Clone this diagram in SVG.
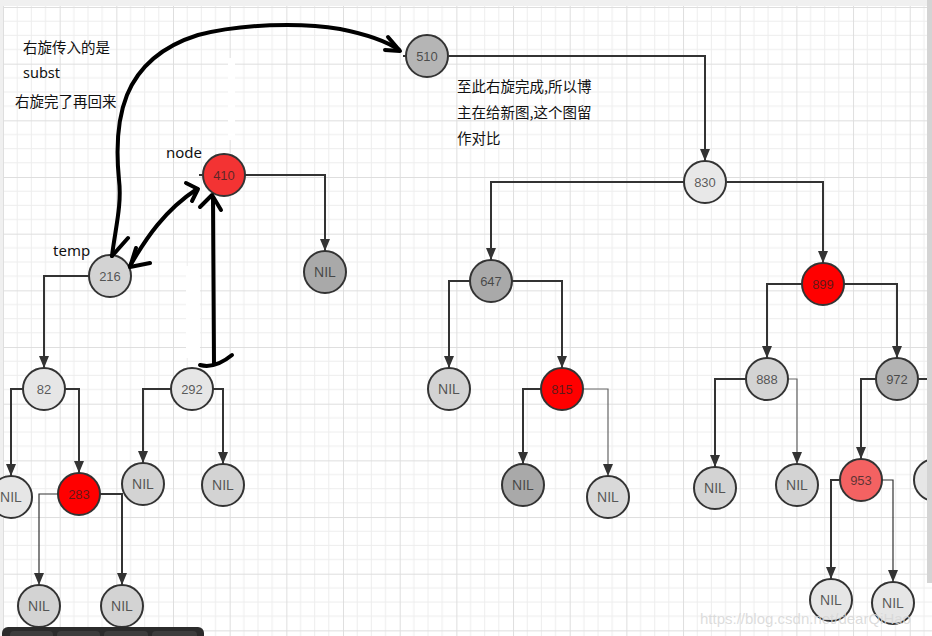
<svg xmlns="http://www.w3.org/2000/svg" width="932" height="636" viewBox="0 0 932 636">
<defs>
<pattern id="grid" patternUnits="userSpaceOnUse" x="3" y="7" width="56.67" height="56.67">
<path d="M14.17,0V56.67M28.33,0V56.67M42.5,0V56.67M0,14.17H56.67M0,28.33H56.67M0,42.5H56.67" stroke="#ededed" stroke-width="1" fill="none"/>
<path d="M0.5,0V56.67M0,0.5H56.67" stroke="#dedede" stroke-width="1" fill="none"/>
</pattern>
<marker id="arr" markerUnits="userSpaceOnUse" markerWidth="12" markerHeight="12" refX="12" refY="5" orient="auto" viewBox="0 0 12 10">
<path d="M0,0L12,5L0,10z" fill="#333"/>
</marker>
<style>
.e{fill:none;stroke:#333;stroke-width:2;marker-end:url(#arr)}
.th{stroke-width:1.2}
.gr{stroke:#666;stroke-width:1.2}
.n circle{stroke:#333;stroke-width:2}
.n text{font-family:"Liberation Sans",Arial,sans-serif;font-size:13px;fill:#222;fill-opacity:0.72;text-anchor:middle;dominant-baseline:central}
.nil text{font-size:14px}
.h{fill:none;stroke:#000;stroke-width:4;stroke-linecap:round;stroke-linejoin:round}
.lbl{font-family:"Noto Sans","Noto Sans CJK SC",sans-serif;font-size:15px;fill:#111}
.cn{font-family:"Noto Sans CJK SC","Noto Sans",sans-serif;font-size:14.5px;fill:#111}
</style>
</defs>
<rect width="932" height="636" fill="#fff"/>
<rect width="932" height="636" fill="url(#grid)"/>
<rect x="0" y="0" width="932" height="6" fill="#f0f0f0"/>
<rect x="0" y="0" width="3" height="636" fill="#f0f0f0"/>
<g id="erasures" fill="#fff">
<rect x="228" y="58" width="7" height="82"/>
<rect x="186" y="266" width="14" height="92"/>
</g>

<g id="connectors">
<path class="e" d="M449,56H705V161"/>
<path class="e" d="M684,182H491V260"/>
<path class="e" d="M727,182H823V263"/>
<path class="e" d="M470,281H449V368"/>
<path class="e" d="M512,281H562V368"/>
<path class="e" d="M541,389H523V464"/>
<path class="e gr" d="M583,389H608V476"/>
<path class="e" d="M802,284H767V358"/>
<path class="e" d="M844,284H897V358"/>
<path class="e" d="M746,379H715V467"/>
<path class="e gr" d="M788,379H797V464"/>
<path class="e" d="M876,379H861V459"/>
<path d="M918,379H932" fill="none" stroke="#333" stroke-width="2"/>
<path class="e" d="M840,480H831V579"/>
<path class="e th" d="M882,480H893V582"/>
<path class="e" d="M245,175H325V251"/>
<path class="e" d="M89,276H44V368"/>
<path class="e" d="M23,389H11V476"/>
<path class="e" d="M65,389H79V473"/>
<path class="e th" d="M58,494H39V585"/>
<path class="e" d="M100,494H122V585"/>
<path class="e" d="M171,389H143V463"/>
<path class="e" d="M213,389H223V464"/>
<path d="M403,56H406M199,175H202" fill="none" stroke="#333" stroke-width="2"/>
</g>

<g id="n510" class="n"><circle cx="427" cy="56" r="21" fill="#b5b5b5"/><text x="427" y="56">510</text></g>
<g id="n830" class="n"><circle cx="705" cy="182" r="21" fill="#e8e8e8"/><text x="705" y="182">830</text></g>
<g id="n647" class="n"><circle cx="491" cy="281" r="21" fill="#a9a9a9"/><text x="491" y="281">647</text></g>
<g id="nil647" class="n nil"><circle cx="449" cy="389" r="21" fill="#d3d3d3"/><text x="449" y="389">NIL</text></g>
<g id="n815" class="n"><circle cx="562" cy="389" r="21" fill="#ff0000"/><text x="562" y="389">815</text></g>
<g id="nil815a" class="n nil"><circle cx="523" cy="485" r="21" fill="#a9a9a9"/><text x="523" y="485">NIL</text></g>
<g id="nil815b" class="n nil"><circle cx="608" cy="497" r="21" fill="#d9d9d9"/><text x="608" y="497">NIL</text></g>
<g id="n899" class="n"><circle cx="823" cy="284" r="21" fill="#ff0000"/><text x="823" y="284">899</text></g>
<g id="n888" class="n"><circle cx="767" cy="379" r="21" fill="#d3d3d3"/><text x="767" y="379">888</text></g>
<g id="n972" class="n"><circle cx="897" cy="379" r="21" fill="#b3b3b3"/><text x="897" y="379">972</text></g>
<g id="nil888a" class="n nil"><circle cx="715" cy="488" r="21" fill="#d3d3d3"/><text x="715" y="488">NIL</text></g>
<g id="nil888b" class="n nil"><circle cx="797" cy="485" r="21" fill="#d3d3d3"/><text x="797" y="485">NIL</text></g>
<g id="n953" class="n"><circle cx="861" cy="480" r="21" fill="#f46262"/><text x="861" y="480">953</text></g>
<g id="nil953a" class="n nil"><circle cx="831" cy="600" r="21" fill="#e6e6e6"/><text x="831" y="600">NIL</text></g>
<g id="nil953b" class="n nil"><circle cx="893" cy="603" r="21" fill="#e6e6e6"/><text x="893" y="603">NIL</text></g>
<g id="nEdge" class="n"><circle cx="935" cy="480" r="21" fill="#e6e6e6"/></g>

<g id="n410" class="n"><circle cx="224" cy="175" r="21" fill="#f33333"/><text x="224" y="175">410</text></g>
<g id="nil410" class="n nil"><circle cx="325" cy="272" r="21" fill="#a9a9a9"/><text x="325" y="272">NIL</text></g>
<g id="n216" class="n"><circle cx="110" cy="276" r="21" fill="#d3d3d3"/><text x="110" y="276">216</text></g>
<g id="n82" class="n"><circle cx="44" cy="389" r="21" fill="#e6e6e6"/><text x="44" y="389">82</text></g>
<g id="n292" class="n"><circle cx="192" cy="389" r="21" fill="#e6e6e6"/><text x="192" y="389">292</text></g>
<g id="nil82" class="n nil"><circle cx="11" cy="497" r="21" fill="#e6e6e6"/><text x="11" y="497">NIL</text></g>
<g id="n283" class="n"><circle cx="79" cy="494" r="21" fill="#ff0000"/><text x="79" y="494">283</text></g>
<g id="nil283a" class="n nil"><circle cx="39" cy="606" r="21" fill="#d3d3d3"/><text x="39" y="606">NIL</text></g>
<g id="nil283b" class="n nil"><circle cx="122" cy="606" r="21" fill="#d3d3d3"/><text x="122" y="606">NIL</text></g>
<g id="nil292a" class="n nil"><circle cx="143" cy="484" r="21" fill="#d3d3d3"/><text x="143" y="484">NIL</text></g>
<g id="nil292b" class="n nil"><circle cx="223" cy="485" r="21" fill="#d3d3d3"/><text x="223" y="485">NIL</text></g>

<g id="handdrawn">
<path class="h" d="M112,256C115,230 122,205 119,180C116,150 117,120 127,95C139,66 163,46 198,35C240,24 300,22 340,29C365,34 385,40 399,50"/>
<path class="h" d="M388,37L400,51L385,50"/>
<path class="h" d="M112,256L128,238"/>
<path class="h" d="M130,266C146,238 165,210 197,189"/>
<path class="h" d="M186,183L198,189L192,201"/>
<path class="h" d="M150,263L130,267L136,248"/>
<path class="h" d="M213,198L214,364"/>
<path class="h" d="M200,207L212,195L221,210"/>
<path class="h" d="M200,365Q215,369 232,355"/>
</g>

<g id="labels">
<text class="lbl" x="166" y="158">node</text>
<text class="lbl" x="53" y="256">temp</text>
<text class="cn" x="23" y="53">右旋传入的是</text>
<text class="lbl" x="23" y="78" style="font-size:14.5px">subst</text>
<text class="cn" x="15" y="107">右旋完了再回来</text>
<text class="cn" x="457" y="92">至此右旋完成,所以博</text>
<text class="cn" x="457" y="118">主在给新图,这个图留</text>
<text class="cn" x="457" y="144">作对比</text>
</g>

<rect x="927" y="0" width="5" height="583" fill="#d4d4d4"/>
<g id="toolbar">
<rect x="2" y="627" width="202" height="16" rx="6" fill="#2b2b2b"/>
<rect x="10" y="631" width="43" height="10" rx="4" fill="#3d3d3d"/>
<rect x="57" y="631" width="43" height="10" rx="4" fill="#3d3d3d"/>
<rect x="104" y="631" width="44" height="10" rx="4" fill="#3d3d3d"/>
<rect x="152" y="631" width="45" height="10" rx="4" fill="#3d3d3d"/>
</g>
<text x="700" y="624" style="font-family:'Liberation Sans',Arial,sans-serif;font-size:15px;fill:#d6d6d6;fill-opacity:0.85">https://blog.csdn.net/dearQiHao</text>
</svg>
